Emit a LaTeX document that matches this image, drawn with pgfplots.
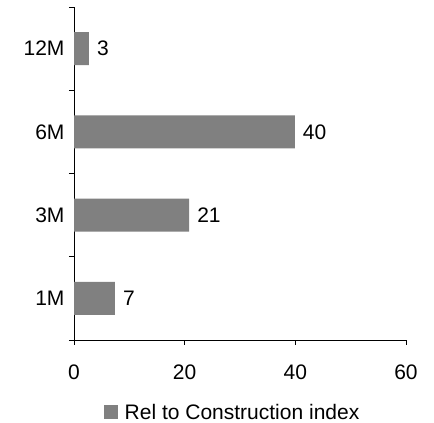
\documentclass[border=0pt]{standalone}
\usepackage{pgfplots}
\pgfplotsset{compat=1.18}
\usepackage{fontspec}
\setmainfont{Liberation Sans}
\definecolor{bargray}{HTML}{808080}
\newcommand{\bigf}{\fontsize{21pt}{25pt}\selectfont}
\begin{document}
\begin{tikzpicture}
\begin{axis}[
  at={(74pt,83pt)}, anchor=south west,
  scale only axis, width=332pt, height=333pt,
  xbar, bar width=33pt,
  xmin=0, xmax=60, ymin=-0.5, ymax=3.5,
  axis x line*=bottom, axis y line*=left,
  axis line style={black, line width=0.8pt},
  tick style={black, line width=0.8pt},
  tick align=outside,
  major tick length=5pt,
  xtick={0,20,40,60},
  ytick={-0.5,0.5,1.5,2.5,3.5},
  yticklabels={},
  extra y ticks={0,1,2,3},
  extra y tick labels={1M,3M,6M,12M},
  extra y tick style={tick style={draw=none}, major tick length=0pt, yticklabel style={xshift=-6pt}},
  tick label style={font=\bigf},
  xticklabel style={yshift=-16pt},
  /pgf/number format/assume math mode=true,
  nodes near coords,
  nodes near coords style={font=\bigf, anchor=west, inner sep=0pt, xshift=8pt,
    /pgf/number format/.cd, fixed, precision=0, assume math mode=true},
  legend style={at={(0.476,-0.217)}, anchor=center, draw=none, fill=none,
    font=\bigf, inner sep=0pt, nodes={inner sep=1pt},
    /tikz/every odd column/.append style={column sep=6pt}},
  legend image code/.code={\fill[bargray] (0pt,-7pt) rectangle (14pt,7pt);},
]
\addplot[fill=bargray, draw=none] coordinates {(7.4,0) (20.8,1) (39.9,2) (2.7,3)};
\addlegendentry{Rel to Construction index}
\end{axis}
\pgfresetboundingbox
\path[use as bounding box] (0,0) rectangle (434pt,423pt);
\end{tikzpicture}
\end{document}
